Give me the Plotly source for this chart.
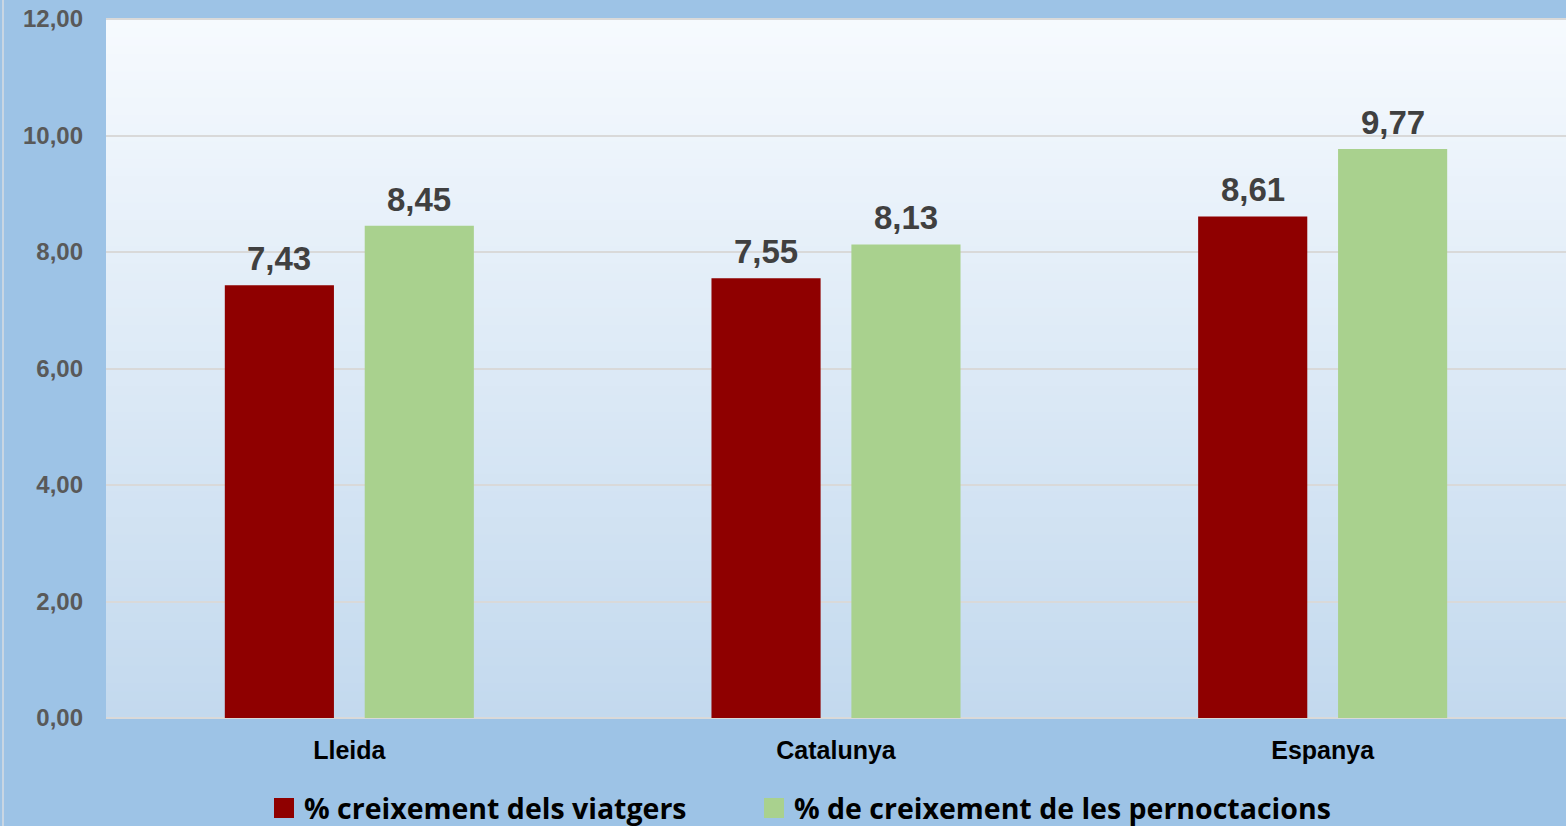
import plotly.graph_objects as go

categories = ["Lleida", "Catalunya", "Espanya"]
viatgers = [7.43, 7.55, 8.61]
pernoctacions = [8.45, 8.13, 9.77]
series_names = ["% creixement dels viatgers", "% de creixement de les pernoctacions"]
y_ticks = [0, 2, 4, 6, 8, 10, 12]

RED = "#8F0000"
GREEN = "#A9D18E"
LABEL_FONT = dict(family="Liberation Sans, Arial", size=33, color="#404040", weight="bold")
LEGEND_FONT = dict(family="Open Sans", size=28.5, color="#000000", weight="bold")

# plot-area geometry (pixels) used to place the hand-made legend
L, T, W, H = 106, 19, 1460, 699


def px_x(p):
    return (p - L) / W


def px_y(p):
    return (T + H - p) / H


fig = go.Figure()
fig.add_trace(go.Bar(x=categories, y=viatgers, name=series_names[0], marker_color=RED,
                     marker_line_width=0, showlegend=False))
fig.add_trace(go.Bar(x=categories, y=pernoctacions, name=series_names[1], marker_color=GREEN,
                     marker_line_width=0, showlegend=False))

# data labels
annotations = []
for series, xs in ((viatgers, -70), (pernoctacions, 70)):
    for cat, v in zip(categories, series):
        annotations.append(dict(x=cat, y=v, xref="x", yref="y", text=("%.2f" % v).replace(".", ","),
                                showarrow=False, xshift=xs, yshift=6, yanchor="bottom",
                                font=LABEL_FONT))

# gradient plot background (nested rects, no seams)
shapes = []
N = 80
top = (0xF6, 0xFA, 0xFE)
bot = (0xC3, 0xD9, 0xEE)
for i in range(N):
    t = i / (N - 1)
    c = tuple(int(round(top[k] + (bot[k] - top[k]) * t)) for k in range(3))
    shapes.append(dict(type="rect", xref="paper", yref="paper", x0=0, x1=1,
                       y0=0, y1=1 - i / N, fillcolor="rgb(%d,%d,%d)" % c,
                       line_width=0, layer="below"))
shapes.append(dict(type="line", xref="paper", yref="paper", x0=0, x1=1, y0=1, y1=1,
                   line=dict(color="#D9D9D9", width=2), layer="below"))
shapes.append(dict(type="line", xref="paper", yref="paper", x0=px_x(3), x1=px_x(3),
                   y0=px_y(826), y1=px_y(0),
                   line=dict(color="#C9D6E3", width=2), layer="below"))

# legend (squares + texts)
legend_items = [(series_names[0], RED, 274), (series_names[1], GREEN, 764)]
for nm, col, x0 in legend_items:
    shapes.append(dict(type="rect", xref="paper", yref="paper", x0=px_x(x0), x1=px_x(x0 + 20),
                       y0=px_y(818), y1=px_y(798), fillcolor=col, line_width=0))
    annotations.append(dict(x=px_x(x0 + 28), y=px_y(808), xref="paper", yref="paper", text=nm,
                            showarrow=False, xanchor="left", yanchor="middle", font=LEGEND_FONT))

fig.update_layout(
    width=1566, height=826,
    margin=dict(l=L, r=0, t=T, b=826 - T - H, autoexpand=False),
    paper_bgcolor="#9DC3E6",
    plot_bgcolor="rgba(0,0,0,0)",
    separators=", ",
    barmode="group",
    bargap=0.425,
    bargroupgap=0.22,
    shapes=shapes,
    annotations=annotations,
    showlegend=False,
)
fig.update_yaxes(range=[0, 12], tickvals=y_ticks, tickformat=".2f",
                 showgrid=True, gridcolor="#D9D9D9", gridwidth=1.5,
                 zeroline=True, zerolinecolor="#D9D9D9", zerolinewidth=1.5,
                 tickfont=dict(family="Liberation Sans, Arial", size=24, color="#595959", weight="bold"),
                 ticks="", ticklabelstandoff=22, showline=False)
fig.update_xaxes(tickfont=dict(family="Liberation Sans, Arial", size=25, color="#000000", weight="bold"),
                 showline=False, ticks="", ticklabelstandoff=15)

fig.write_html("out.html", config={"displayModeBar": False},
               post_script="document.body.style.margin='0';document.body.style.padding='0';")
